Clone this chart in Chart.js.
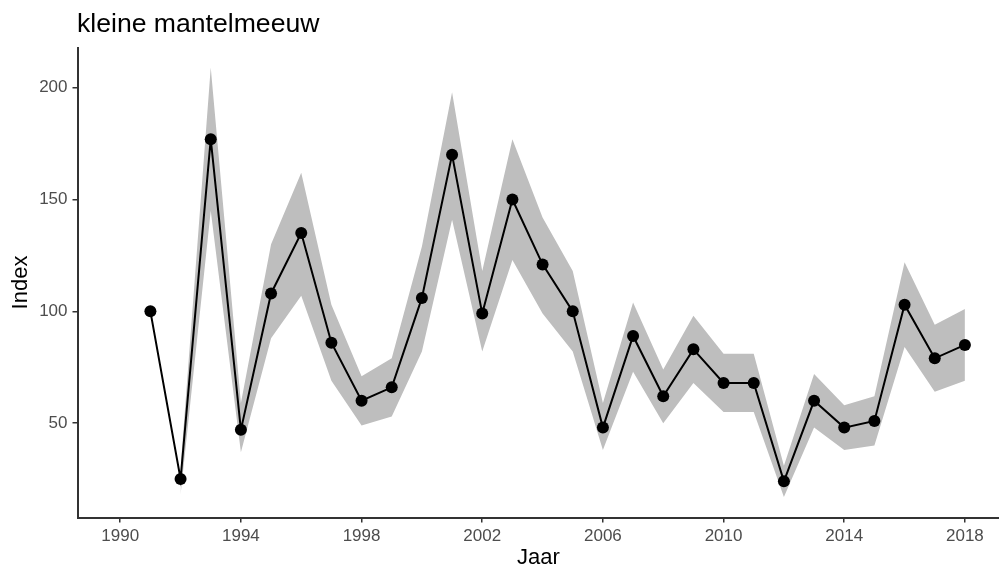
<!DOCTYPE html>
<html>
<head>
<meta charset="utf-8">
<script src="https://cdn.jsdelivr.net/npm/chart.js@4"></script>
<style>
  html, body { margin: 0; padding: 0; background: #fff; }
  #wrap { width: 999px; height: 574px; }
</style>
</head>
<body>
<div id="wrap"><canvas id="c" width="999" height="574"></canvas></div>
<script>
// Kleine mantelmeeuw: yearly index with confidence band
const years = [1991, 1992, 1993, 1994, 1995, 1996, 1997, 1998, 1999, 2000,
               2001, 2002, 2003, 2004, 2005, 2006, 2007, 2008, 2009, 2010,
               2011, 2012, 2013, 2014, 2015, 2016, 2017, 2018];
const indexValues = [100, 25, 177, 47, 108, 135, 86, 60, 66, 106,
                     170, 99, 150, 121, 100, 48, 89, 62, 83, 68,
                     68, 24, 60, 48, 51, 103, 79, 85];
const lowerBound = [null, 18, 145, 37, 88, 107, 69, 49, 53, 82,
                    141, 82, 123, 99, 82, 38, 73, 50, 68, 55,
                    55, 17, 48, 38, 40, 84, 64, 69];
const upperBound = [null, 30, 209, 59, 130, 162, 103, 71, 79, 129,
                    198, 118, 177, 142, 118, 59, 104, 74, 98, 81,
                    81, 31, 72, 58, 62, 122, 94, 101];
const xTicks = [1990, 1994, 1998, 2002, 2006, 2010, 2014, 2018];
const yTicks = [50, 100, 150, 200];

const toPoints = vals => years.map((yr, i) => ({ x: yr, y: vals[i] }));

const FONT = '"Liberation Sans", Arial, sans-serif';
const BAND = 'rgb(190,190,190)';
const AXIS = '#333333';

// Plot title, left-aligned with the panel
const titlePlugin = {
  id: 'panelTitle',
  afterDraw(chart) {
    const ctx = chart.ctx;
    ctx.save();
    ctx.font = '26.6px ' + FONT;
    ctx.fillStyle = '#000';
    ctx.textAlign = 'left';
    ctx.textBaseline = 'alphabetic';
    ctx.fillText('kleine mantelmeeuw', chart.chartArea.left - 1, 31.5);
    ctx.restore();
  }
};

new Chart(document.getElementById('c'), {
  type: 'line',
  data: {
    datasets: [
      {
        label: 'Index',
        data: toPoints(indexValues),
        borderColor: '#000',
        borderWidth: 2,
        pointRadius: 6,
        pointBackgroundColor: '#000',
        pointBorderWidth: 0,
        fill: false,
        tension: 0,
        order: 0
      },
      {
        label: 'upper',
        data: toPoints(upperBound),
        borderWidth: 0,
        borderColor: 'rgba(0,0,0,0)',
        pointRadius: 0,
        backgroundColor: BAND,
        fill: '+1',
        tension: 0,
        order: 1
      },
      {
        label: 'lower',
        data: toPoints(lowerBound),
        borderWidth: 0,
        borderColor: 'rgba(0,0,0,0)',
        pointRadius: 0,
        backgroundColor: BAND,
        fill: false,
        tension: 0,
        order: 2
      }
    ]
  },
  options: {
    responsive: false,
    devicePixelRatio: 1,
    animation: false,
    events: [],
    layout: { autoPadding: false, padding: { top: 47.5, left: 0, right: 0, bottom: 0 } },
    plugins: {
      legend: { display: false },
      tooltip: { enabled: false },
      title: { display: false }
    },
    scales: {
      x: {
        type: 'linear',
        min: 1988.6,
        max: 2019.13,
        afterFit(scale) { scale.height = 56.5; },
        afterBuildTicks(scale) { scale.ticks = xTicks.map(v => ({ value: v })); },
        border: { display: true, color: AXIS, width: 2 },
        grid: { display: true, drawOnChartArea: false, drawTicks: true, tickLength: 5, color: AXIS, lineWidth: 1.5 },
        ticks: {
          color: '#4d4d4d',
          font: { family: FONT, size: 17 },
          padding: 4,
          maxRotation: 0,
          autoSkip: false,
          callback: v => String(v)
        },
        title: {
          display: true,
          text: 'Jaar',
          color: '#000',
          font: { family: FONT, size: 22 },
          padding: { top: 0, bottom: 3.3 }
        }
      },
      y: {
        type: 'linear',
        min: 7.8,
        max: 218,
        afterFit(scale) { scale.width = 78; },
        afterBuildTicks(scale) { scale.ticks = yTicks.map(v => ({ value: v })); },
        border: { display: true, color: AXIS, width: 2 },
        grid: { display: true, drawOnChartArea: false, drawTicks: true, tickLength: 5.5, color: AXIS, lineWidth: 1.5 },
        ticks: {
          color: '#4d4d4d',
          font: { family: FONT, size: 17 },
          padding: 5,
          callback: v => String(v)
        },
        title: {
          display: true,
          text: 'Index',
          color: '#000',
          font: { family: FONT, size: 22 },
          padding: { top: 8, bottom: 0 }
        }
      }
    }
  },
  plugins: [titlePlugin]
});
</script>
</body>
</html>
